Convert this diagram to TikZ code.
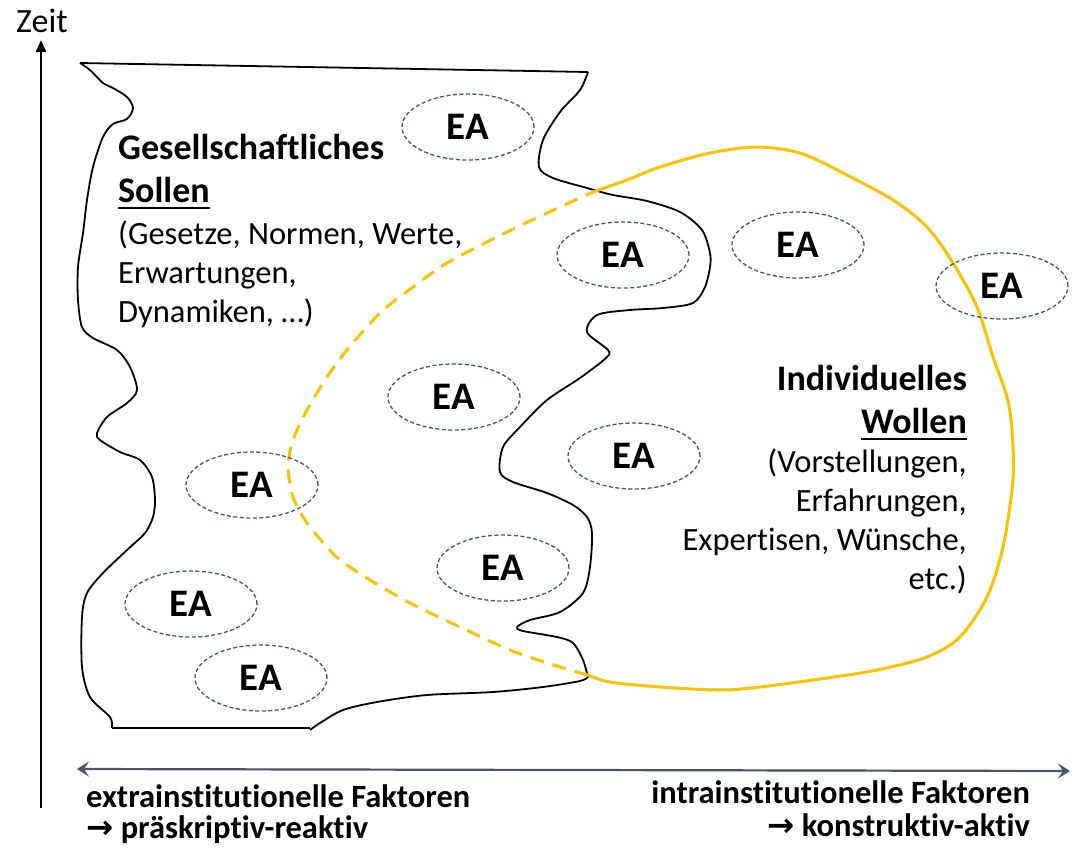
\documentclass[tikz,border=0pt]{standalone}
\usepackage{fontspec}
\setmainfont{Carlito}[Ligatures=NoCommon]
\newfontfamily\pfeilfont{DejaVu Sans}
\usetikzlibrary{arrows.meta}
\usetikzlibrary{shapes.geometric}
\definecolor{gold}{HTML}{FFC000}
\definecolor{slate}{HTML}{44546A}
\newcommand{\unterstrich}[1]{\setbox0\hbox{#1}\rlap{\rule[-7pt]{\wd0}{2pt}}\box0}
\tikzset{
  ea/.style={ellipse, draw=slate, dash pattern=on 4pt off 2.5pt, line width=1.3pt,
    minimum width=132pt, minimum height=66pt, inner sep=0pt,
    font=\fontsize{39}{44}\selectfont\bfseries},
  sollen/.style={draw, line width=1.8pt, line join=round},
  wollen/.style={draw=gold, line width=3pt},
  wollendash/.style={wollen, dash pattern=on 14pt off 9pt},
  title/.style={inner sep=0pt, font=\fontsize{36}{42.5}\selectfont\bfseries},
  list/.style={inner sep=0pt, font=\fontsize{32.5}{38.7}\selectfont},
  factor/.style={inner sep=0pt, font=\fontsize{32.5}{31}\selectfont\bfseries},
}
\begin{document}
\begin{tikzpicture}[x=1pt, y=-1pt]
    \useasboundingbox (0,0) rectangle (1077,857);

    \coordinate (zbottom) at (41,808);
    \coordinate (ztop) at (41,40);
    \coordinate (fleft) at (77,769);
    \coordinate (fright) at (1070,771);
    \node [inner sep=0pt, anchor=base, font=\fontsize{34}{40}\selectfont] (zeit) at (42,32) {Zeit};
    \draw [line width=2.6pt, -{Triangle[length=12pt,width=10pt]}] (zbottom) -- (ztop);
    \draw [slate, line width=2.2pt, {Stealth[length=12pt,width=15pt,inset=5pt]}-{Stealth[length=12pt,width=15pt,inset=5pt]}] (fleft) -- (fright);

    \draw [sollen] (80,63) -- (588,72);
    \draw [sollen] plot [smooth] coordinates {(588,72) (580,90) (560,112) (543,140) (539,167) (553,178)
      (587,188) (613,195) (647,201) (680,212) (702,230) (710,253) (710,267) (705,287) (693,303)
      (663,308) (630,310) (597,315) (587,332) (608,350) (606,358) (580,378) (547,400) (520,427)
      (503,447) (500,472) (513,482) (547,493) (573,505) (587,517) (592,533) (590,567) (583,593)
      (560,612) (530,620) (517,627) (523,631) (557,637) (573,643) (583,660) (588,677)};
    \draw [sollen] plot [smooth] coordinates {(588,677) (580,681) (543,687) (493,692) (427,695)
      (377,702) (343,710) (320,723) (310,730)};
    \draw [sollen] (310,728) -- (112,728);
    \draw [sollen] plot [smooth] coordinates {(112,728) (110,717) (90,697) (82,667) (82,617) (87,593)
      (103,573) (127,550) (145,533) (153,517) (155,500) (152,477) (140,460) (120,452) (100,440)
      (97,433) (107,417) (127,403) (137,390) (130,367) (117,350) (93,338) (82,327) (78,300)
      (78,267) (83,233) (87,200) (93,167) (103,137) (113,124) (127,119) (133,108) (127,97)
      (113,88) (103,83) (90,70) (80,63)};

    \draw [wollen] plot [smooth] coordinates {(593,192) (627,180) (660,167) (710,153) (757,147)
      (800,153) (843,173) (893,200) (927,227) (953,263) (977,307) (993,357) (1007,397) (1012,430)
      (1013,480) (1003,547) (987,597) (960,637) (927,657) (877,670) (827,678) (760,687) (720,690)
      (660,687) (610,682) (588,675)};
    \draw [wollendash] plot [smooth] coordinates {(588,675) (560,667) (510,650) (460,627) (410,603)
      (370,580) (340,560) (327,547) (307,523) (293,497) (288,467) (293,440) (307,410) (327,377)
      (347,350) (380,313) (413,287) (447,263) (497,237) (547,213) (593,192)};

    \node [ea] (ea1) at (468,127) {EA};
    \node [ea] (ea2) at (623,255) {EA};
    \node [ea] (ea3) at (798,245) {EA};
    \node [ea] (ea4) at (1002,286) {EA};
    \node [ea] (ea5) at (454,397) {EA};
    \node [ea] (ea6) at (634,456) {EA};
    \node [ea] (ea7) at (252,485) {EA};
    \node [ea] (ea8) at (503,568) {EA};
    \node [ea] (ea9) at (191,604) {EA};
    \node [ea] (ea10) at (261,678) {EA};

    \node [title, anchor=base west, align=left] (sollentitle) at (118,202)
      {Gesellschaftliches\\\unterstrich{Sollen}};
    \node [list, anchor=base west, align=left] (sollenlist) at (118,322)
      {(Gesetze, Normen, Werte,\\Erwartungen,\\Dynamiken, \dots)};
    \node [title, anchor=base east, align=right] (wollentitle) at (967,433)
      {Individuelles\\\unterstrich{Wollen}};
    \node [list, anchor=base east, align=right] (wollenlist) at (967,589)
      {(Vorstellungen,\\Erfahrungen,\\Expertisen, Wünsche,\\etc.)};

    \node [factor, anchor=base west, align=left] (extra) at (86,838)
      {extrainstitutionelle Faktoren\\{\pfeilfont →} präskriptiv-reaktiv};
    \node [factor, anchor=base east, align=right, font=\fontsize{32.5}{33}\selectfont\bfseries] (intra) at (1030,836)
      {intrainstitutionelle Faktoren\\{\pfeilfont →} konstruktiv-aktiv};
\end{tikzpicture}
\end{document}
